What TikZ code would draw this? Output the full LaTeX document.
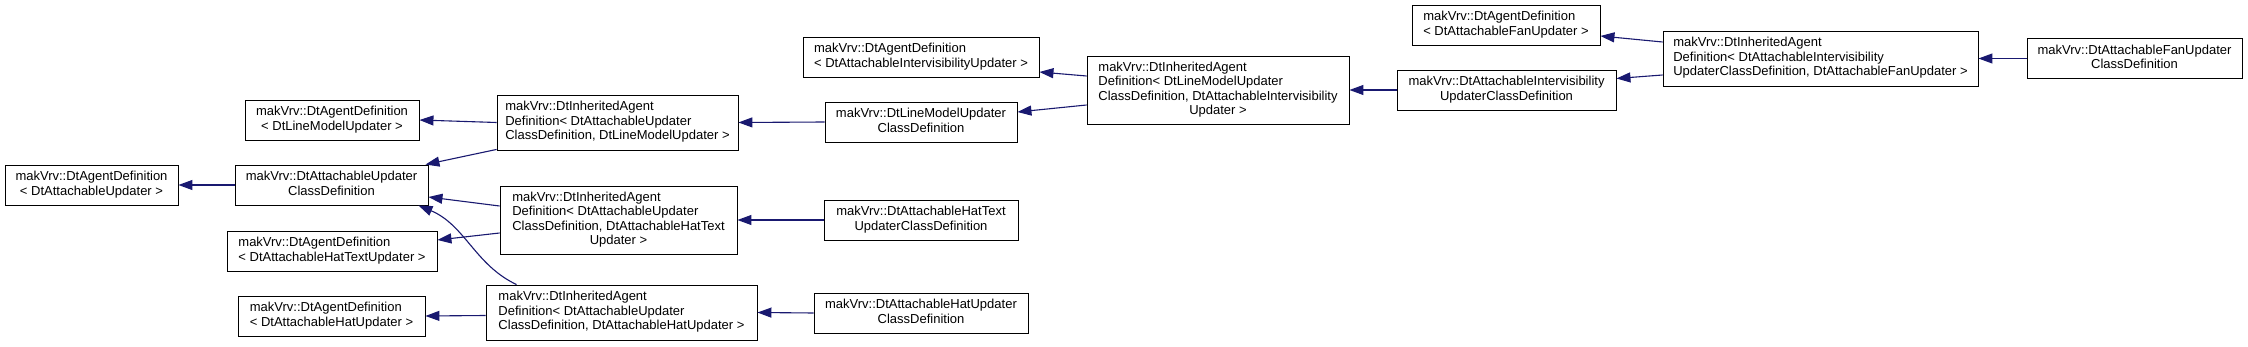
\documentclass[tikz,border=0pt]{standalone}
\usepackage{fontspec}
\setmainfont{Liberation Sans}
\usetikzlibrary{arrows.meta,calc}
\definecolor{edgeblue}{HTML}{191970}
\newcommand{\lbl}[2]{\begin{tabular}{@{}l@{}}#1\\\multicolumn{1}{@{}c@{}}{#2}\end{tabular}}
\tikzset{
  box/.style={draw=black, fill=white, line width=0.9pt, inner sep=0pt,
    font=\fontsize{13}{14.4}\selectfont},
  inh/.style={draw=edgeblue, line width=1.1pt,
    -{Triangle[length=14pt,width=10pt]}},
}
\begin{document}
\begin{tikzpicture}[x=1pt,y=-1pt]
\useasboundingbox[fill=white] (0,0) rectangle (2248,347);

\node[box, minimum width=173pt, minimum height=40pt] (N1) at (91.5,185) {\lbl{makVrv::DtAgentDefinition}{< DtAttachableUpdater >}};
\node[box, minimum width=193pt, minimum height=40pt] (N2) at (331.5,185) {\lbl{makVrv::DtAttachableUpdater}{ClassDefinition}};
\node[box, minimum width=210pt, minimum height=40pt] (N3) at (332,251) {\lbl{makVrv::DtAgentDefinition}{< DtAttachableHatTextUpdater >}};
\node[box, minimum width=187pt, minimum height=40pt] (N4) at (331.5,316) {\lbl{makVrv::DtAgentDefinition}{< DtAttachableHatUpdater >}};
\node[box, minimum width=174pt, minimum height=40pt] (N5) at (332,120) {\lbl{makVrv::DtAgentDefinition}{< DtLineModelUpdater >}};
\node[box, minimum width=241pt, minimum height=55pt] (N6) at (617.5,122.5) {\lbl{makVrv::DtInheritedAgent\\Definition< DtAttachableUpdater}{ClassDefinition, DtLineModelUpdater >}};
\node[box, minimum width=237pt, minimum height=68pt] (N7) at (618.5,220) {\lbl{makVrv::DtInheritedAgent\\Definition< DtAttachableUpdater\\ClassDefinition, DtAttachableHatText}{Updater >}};
\node[box, minimum width=271pt, minimum height=55pt] (N8) at (621.5,312.5) {\lbl{makVrv::DtInheritedAgent\\Definition< DtAttachableUpdater}{ClassDefinition, DtAttachableHatUpdater >}};
\node[box, minimum width=236pt, minimum height=40pt] (N9) at (921,57) {\lbl{makVrv::DtAgentDefinition}{< DtAttachableIntervisibilityUpdater >}};
\node[box, minimum width=192pt, minimum height=40pt] (N10) at (921,122) {\lbl{makVrv::DtLineModelUpdater}{ClassDefinition}};
\node[box, minimum width=262pt, minimum height=68pt] (N11) at (1218,90) {\lbl{makVrv::DtInheritedAgent\\Definition< DtLineModelUpdater\\ClassDefinition, DtAttachableIntervisibility}{Updater >}};
\node[box, minimum width=188pt, minimum height=40pt] (N12) at (1506,25) {\lbl{makVrv::DtAgentDefinition}{< DtAttachableFanUpdater >}};
\node[box, minimum width=219pt, minimum height=40pt] (N13) at (1506.5,90) {\lbl{makVrv::DtAttachableIntervisibility}{UpdaterClassDefinition}};
\node[box, minimum width=315pt, minimum height=55pt] (N14) at (1820.5,58.5) {\lbl{makVrv::DtInheritedAgent\\Definition< DtAttachableIntervisibility}{UpdaterClassDefinition, DtAttachableFanUpdater >}};
\node[box, minimum width=215pt, minimum height=40pt] (N15) at (2134.5,58.5) {\lbl{makVrv::DtAttachableFanUpdater}{ClassDefinition}};
\node[box, minimum width=194pt, minimum height=40pt] (N16) at (921,220) {\lbl{makVrv::DtAttachableHatText}{UpdaterClassDefinition}};
\node[box, minimum width=214pt, minimum height=40pt] (N17) at (921,313) {\lbl{makVrv::DtAttachableHatUpdater}{ClassDefinition}};

\draw[inh] (N2.west) -- (N1.east);
\draw[inh] (N6.west) -- (N5.east);
\draw[inh] ($(N6.south west)+(0,-1)$) -- ($(N2.north east)+(-3,0)$);
\draw[inh] ($(N7.west)+(0,-14)$) -- ($(N2.east)+(0,12)$);
\draw[inh] ($(N7.west)+(0,13)$) -- ($(N3.east)+(0,-11)$);
\draw[inh] ($(N8.north west)+(31,0)$) .. controls (475,265) and (465,225) .. ($(N2.south east)+(-10,0)$);
\draw[inh] ($(N8.west)+(0,3)$) -- (N4.east);
\draw[inh] (N10.west) -- (N6.east);
\draw[inh] (N16.west) -- (N7.east);
\draw[inh] (N17.west) -- (N8.east);
\draw[inh] ($(N11.west)+(0,-14)$) -- ($(N9.east)+(0,15)$);
\draw[inh] ($(N11.west)+(0,15)$) -- ($(N10.east)+(0,-10)$);
\draw[inh] (N13.west) -- (N11.east);
\draw[inh] ($(N14.west)+(0,-16.5)$) -- ($(N12.east)+(0,11)$);
\draw[inh] ($(N14.west)+(0,16.5)$) -- ($(N13.east)+(0,-11.5)$);
\draw[inh] (N15.west) -- (N14.east);
\end{tikzpicture}
\end{document}
